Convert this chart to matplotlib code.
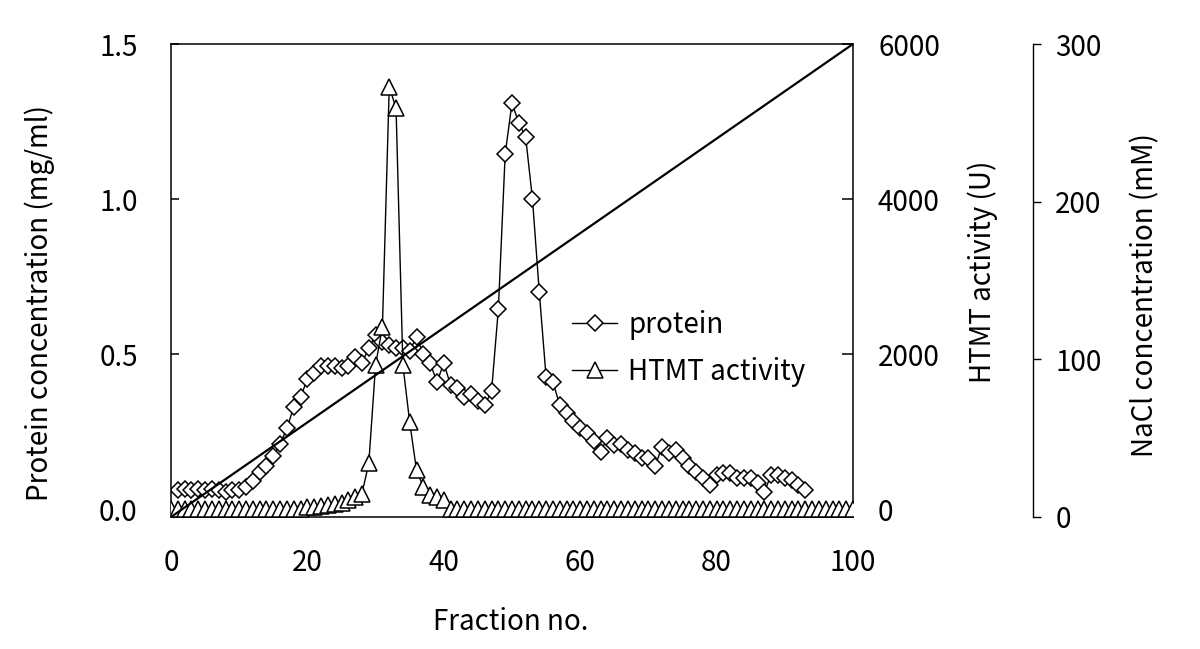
import numpy as np
import matplotlib
matplotlib.use("Agg")
import matplotlib.pyplot as plt

plt.rcParams['font.family'] = ['Noto Sans CJK JP', 'DejaVu Sans']

# protein concentration (mg/ml), fractions 1-93
protein_frac = list(range(1, 94))
protein = [0.06, 0.065, 0.06, 0.065, 0.06, 0.065, 0.06, 0.055, 0.06, 0.06,
           0.07, 0.09, 0.12, 0.14, 0.17, 0.21, 0.26, 0.33, 0.36, 0.42,
           0.44, 0.46, 0.46, 0.46, 0.455, 0.46, 0.49, 0.47, 0.52, 0.56,
           0.54, 0.53, 0.52, 0.52, 0.51, 0.555, 0.50, 0.47, 0.41, 0.47,
           0.40, 0.39, 0.36, 0.37, 0.35, 0.335, 0.38, 0.645, 1.145, 1.31,
           1.245, 1.20, 1.00, 0.70, 0.425, 0.41, 0.335, 0.31, 0.285, 0.26,
           0.245, 0.22, 0.185, 0.23, 0.205, 0.21, 0.19, 0.18, 0.165, 0.165,
           0.14, 0.20, 0.18, 0.19, 0.165, 0.14, 0.12, 0.10, 0.077, 0.11,
           0.115, 0.115, 0.10, 0.10, 0.10, 0.084, 0.055, 0.11, 0.11, 0.10,
           0.094, 0.077, 0.06]

# HTMT activity (U), fractions 0-100
htmt_frac = list(range(0, 101))
htmt = ([0] * 20 +
        [20, 30, 40, 50, 60, 80, 120, 150, 200, 590,
         1860, 2350, 5450, 5170, 1860, 1120, 500, 285, 180, 155,
         115] +
        [0] * 60)

# NaCl gradient (mM)
nacl_frac = [0, 100]
nacl = [0, 300]

xticks = [0, 20, 40, 60, 80, 100]

fig = plt.figure(figsize=(12, 6.49), dpi=100)
ax = fig.add_axes([171/1200, 1 - 517/649, 682/1200, 473/649])
ax2 = ax.twinx()
ax3 = ax.twinx()

fs = 20
mk = dict(markerfacecolor='white', markeredgecolor='black', markeredgewidth=1.1)

ln1, = ax.plot(protein_frac, protein, color='black', lw=1.0, marker='D', ms=8.5,
               label='protein', **mk)
ln2, = ax2.plot(htmt_frac, htmt, color='black', lw=1.0, marker='^', ms=11.5,
                label='HTMT activity', **mk)
ax3.plot(nacl_frac, nacl, color='black', lw=1.6)

ax.set_xlim(0, 100)
ax.set_ylim(-0.0258, 1.5)
ax2.set_ylim(-103, 6000)
ax3.set_ylim(0, 300)

ax.set_xticks(xticks)
ax.set_yticks([0.0, 0.5, 1.0, 1.5])
ax.set_yticklabels(['0.0', '0.5', '1.0', '1.5'])
ax2.set_yticks([0, 2000, 4000, 6000])
ax3.set_yticks([0, 100, 200, 300])

for s in ax.spines.values():
    s.set_linewidth(1.1)
ax.tick_params(axis='x', length=0, pad=22, labelsize=fs)
ax.tick_params(axis='y', direction='in', length=6, width=1.1, pad=24, labelsize=fs)
ax2.tick_params(axis='y', direction='in', length=8, width=1.1, pad=18, labelsize=fs)
for s in ax2.spines.values():
    s.set_visible(False)

for k in ['left', 'top', 'bottom']:
    ax3.spines[k].set_visible(False)
ax3.spines['right'].set_position(('axes', (1033 - 171) / 682))
ax3.spines['right'].set_linewidth(1.0)
ax3.tick_params(axis='y', direction='out', length=6, width=1.0, pad=10, labelsize=fs)

ax.set_xlabel('Fraction no.', fontsize=fs)
ax.xaxis.set_label_coords((511 - 171) / 682, (517 - 622) / 473)
ax.xaxis.label.set_va('center')

ax.set_ylabel('Protein concentration (mg/ml)', fontsize=fs)
ax.yaxis.set_label_coords((40 - 171) / 682, (517 - 303) / 473)
ax.yaxis.label.set_va('center')

ax2.set_ylabel('HTMT activity (U)', fontsize=fs)
ax2.yaxis.set_label_coords((983 - 171) / 682, (517 - 272) / 473)
ax2.yaxis.label.set_va('center')

ax3.set_ylabel('NaCl concentration (mM)', fontsize=fs)
ax3.yaxis.set_label_coords((1145 - 171) / 682, (517 - 295) / 473)
ax3.yaxis.label.set_va('center')

ax3.legend([ln1, ln2], ['protein', 'HTMT activity'], frameon=False, fontsize=fs,
           loc='upper left', bbox_to_anchor=((572 - 171) / 682, (517 - 310) / 473),
           handlelength=1.62, handletextpad=0.4, labelspacing=0.6, borderaxespad=0,
           borderpad=0)

fig.savefig('out.png', dpi=100)
